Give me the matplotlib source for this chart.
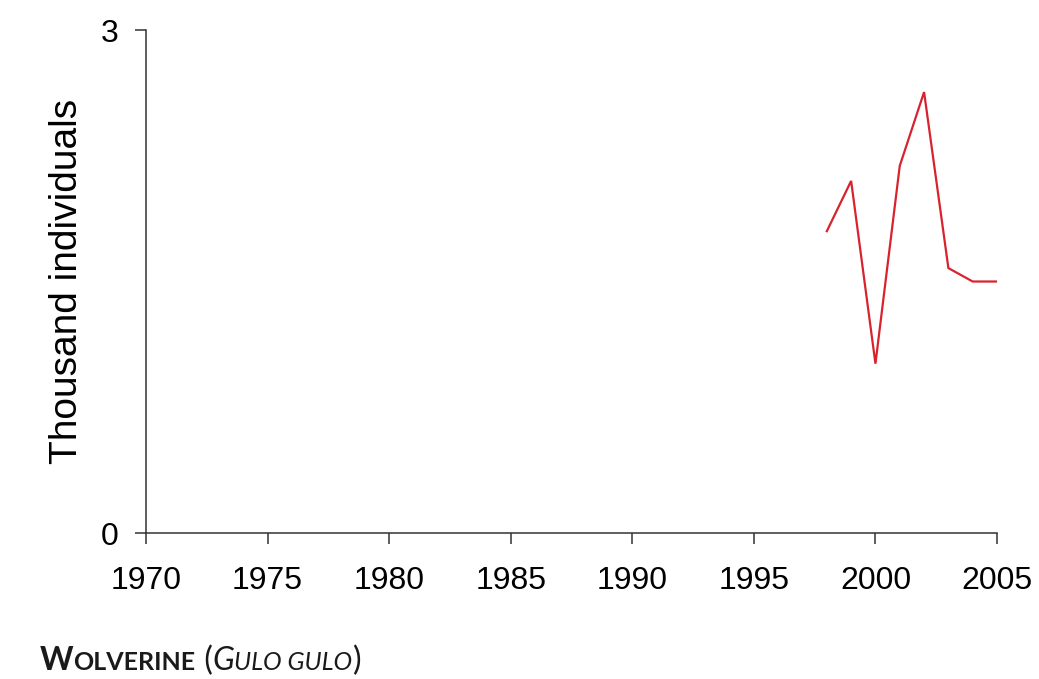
import matplotlib
matplotlib.use("Agg")
import matplotlib.pyplot as plt

# Wolverine population, thousand individuals
years = [1998, 1999, 2000, 2001, 2002, 2003, 2004, 2005]
values = [1.80, 2.10, 1.01, 2.19, 2.63, 1.58, 1.50, 1.50]

x_ticks = [1970, 1975, 1980, 1985, 1990, 1995, 2000, 2005]
y_ticks = [0, 3]

plt.rcParams["font.family"] = ["Liberation Sans", "DejaVu Sans"]

fig = plt.figure(figsize=(10.39, 6.79), dpi=100)
ax = fig.add_axes([0.1405, 0.215, 0.8191, 0.7408])

ax.plot(years, values, color="#d8232f", lw=1.6, solid_joinstyle="miter")

ax.set_xlim(1970, 2005)
ax.set_ylim(0, 3)
ax.set_xticks(x_ticks)
ax.set_yticks(y_ticks)
ax.tick_params(axis="both", labelsize=23, length=8, width=1.1, color="#333333")
ax.tick_params(axis="x", pad=16)
ax.tick_params(axis="y", pad=12)
for s in ["top", "right"]:
    ax.spines[s].set_visible(False)
for s in ["left", "bottom"]:
    ax.spines[s].set_linewidth(1.1)
    ax.spines[s].set_color("#333333")

ax.set_ylabel("Thousand individuals", fontsize=28, labelpad=11)

# caption in small caps, built from pieces
pieces = [
    ("W", "bold", "normal", 23),
    ("OLVERINE", "bold", "normal", 18),
    (" (", "normal", "normal", 23),
    ("G", "normal", "italic", 23),
    ("ULO GULO", "normal", "italic", 18),
    (")", "normal", "normal", 23),
]
fig.canvas.draw()
renderer = fig.canvas.get_renderer()
x = 40 / 1039
y = 1 - 670 / 679
for txt, weight, style, size in pieces:
    t = fig.text(x, y, txt, fontsize=size, fontweight=weight, fontstyle=style,
                 family=["Lato", "DejaVu Sans"], color="#1a1a1a", va="baseline", ha="left")
    bb = t.get_window_extent(renderer=renderer)
    x += bb.width / fig.bbox.width

fig.savefig("out.png", dpi=100)
